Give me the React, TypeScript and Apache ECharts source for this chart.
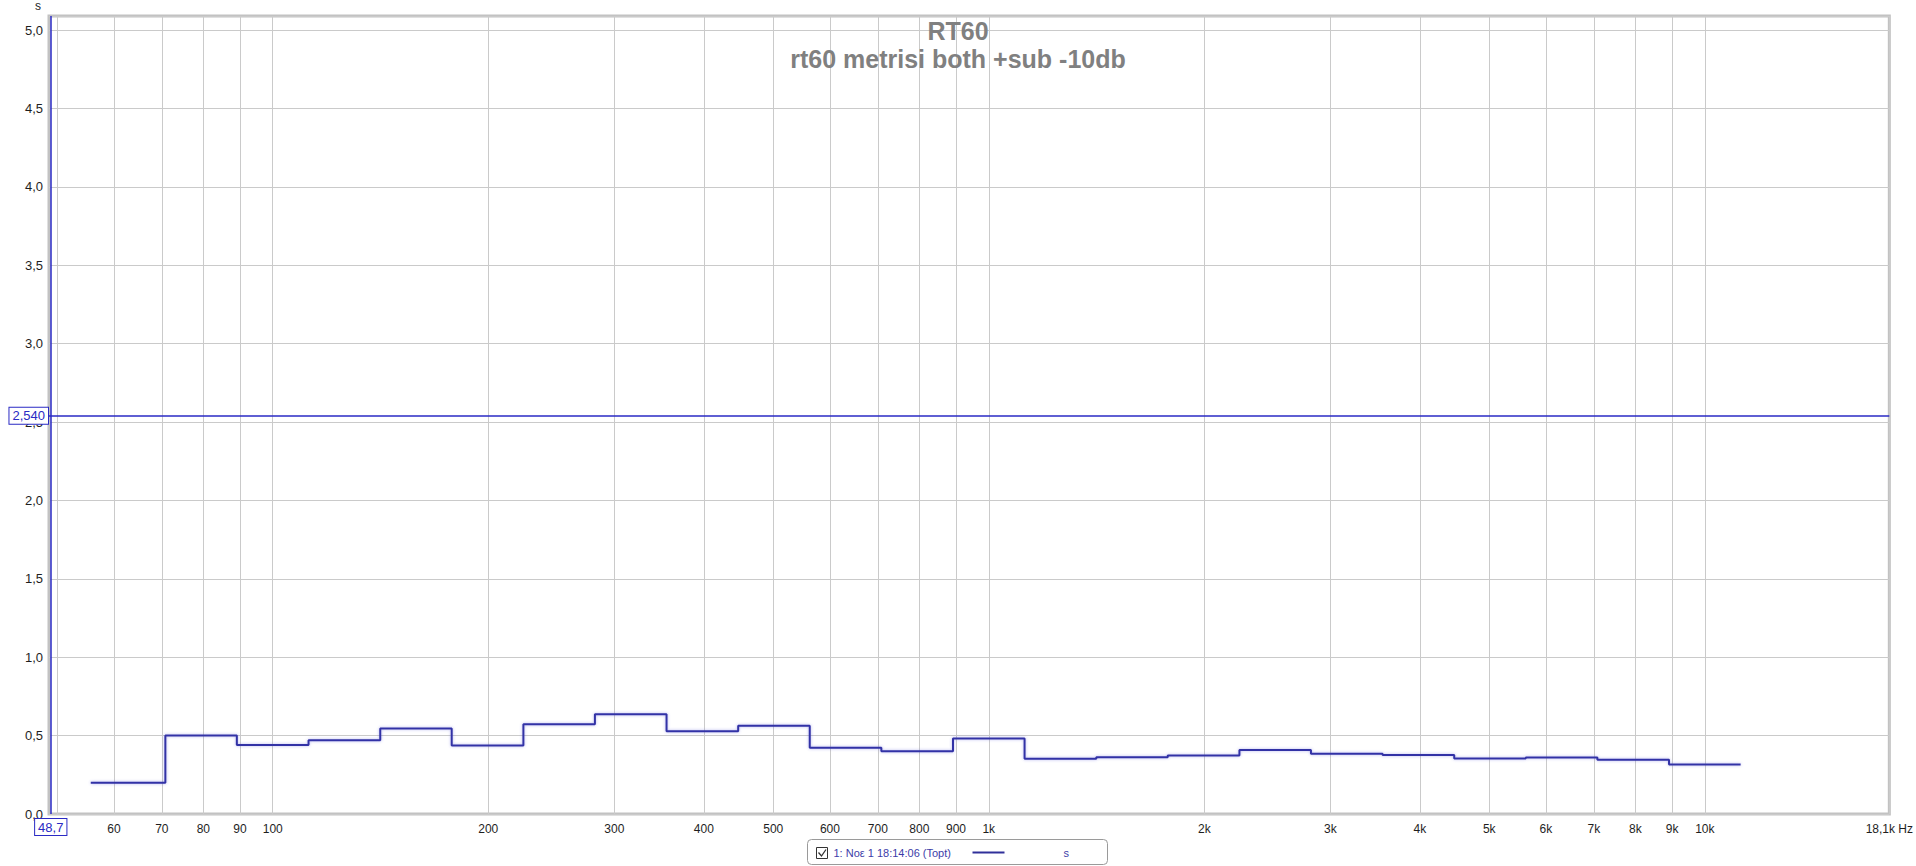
import React, { useEffect, useRef } from 'react';
import * as echarts from 'echarts';

// 1/3-octave band edges (Hz) and the RT60 reading of each band (s)
const bandEdgesHz = [55.7, 70.8, 89.1, 112.2, 141.3, 177.8, 223.9, 281.8, 354.8, 446.7, 562.3, 707.9, 891.3, 1122, 1413, 1778, 2239, 2818, 3548, 4467, 5623, 7079, 8913, 11220];
const rt60Seconds = [0.2, 0.5, 0.44, 0.47, 0.545, 0.437, 0.573, 0.637, 0.528, 0.563, 0.423, 0.4, 0.482, 0.353, 0.362, 0.373, 0.408, 0.385, 0.376, 0.354, 0.36, 0.346, 0.315];

// x axis (log frequency)
const xMinHz = 48.7;
const xMaxHz = 18100;
const xTickFreqs = [50, 60, 70, 80, 90, 100, 200, 300, 400, 500, 600, 700, 800, 900, 1000, 2000, 3000, 4000, 5000, 6000, 7000, 8000, 9000, 10000, 18100];
const xTickLabels = ['', '60', '70', '80', '90', '100', '200', '300', '400', '500', '600', '700', '800', '900', '1k', '2k', '3k', '4k', '5k', '6k', '7k', '8k', '9k', '10k', '18,1k Hz'];

// y axis
const yMax = 5.09;
const yTickValues = [0, 0.5, 1, 1.5, 2, 2.5, 3, 3.5, 4, 4.5, 5];
const yTickLabels = ['0,0', '0,5', '1,0', '1,5', '2,0', '2,5', '3,0', '3,5', '4,0', '4,5', '5,0'];
const yUnit = 's';

// cursors
const cursorHz = 48.7;
const cursorHzLabel = '48,7';
const cursorSeconds = 2.54;
const cursorSecondsLabel = '2,540';

// texts
const titleText = 'RT60';
const subtitleText = 'rt60 metrisi both +sub -10db';
const legendText = '1: Νοε 1 18:14:06 (Topt)';
const legendUnit = 's';

const FONT = '"Liberation Sans", Arial, sans-serif';
const BLUE = '#2a2ac4';

export default function App() {
  const ref = useRef<HTMLDivElement>(null);

  useEffect(() => {
    if (!ref.current) return;
    const chart = echarts.init(ref.current, undefined, { renderer: 'svg' });

    const stepData: number[][] = [];
    rt60Seconds.forEach((v, i) => {
      stepData.push([Math.log10(bandEdgesHz[i]), v]);
      stepData.push([Math.log10(bandEdgesHz[i + 1]), v]);
    });

    const xTickLogs = xTickFreqs.map((f) => Math.log10(f));
    const xLabelFor = (v: number) => {
      let best = -1;
      let bestD = Infinity;
      xTickLogs.forEach((t, i) => {
        const d = Math.abs(t - v);
        if (d < bestD) { bestD = d; best = i; }
      });
      return bestD < 1e-6 ? xTickLabels[best] : '';
    };
    const yLabelFor = (v: number) => {
      const i = yTickValues.findIndex((t) => Math.abs(t - v) < 1e-6);
      return i >= 0 ? yTickLabels[i] : '';
    };

    const cursorLabel = {
      show: true,
      color: BLUE,
      fontSize: 13,
      fontFamily: FONT,
      backgroundColor: '#ffffff',
      borderColor: BLUE,
      borderWidth: 1,
      padding: [2, 3, 1, 3],
    };

    chart.setOption({
      animation: false,
      backgroundColor: '#ffffff',
      title: {
        text: titleText,
        subtext: subtitleText,
        left: 'center',
        top: 13,
        itemGap: 3,
        textStyle: { fontSize: 25, fontWeight: 'bold', color: '#808080', fontFamily: FONT },
        subtextStyle: { fontSize: 25, fontWeight: 'bold', color: '#808080', fontFamily: FONT },
        z: 10,
      },
      grid: {
        left: 49,
        top: 16,
        width: 1843,
        height: 798,
        show: true,
        backgroundColor: '#ffffff',
        borderColor: '#c2c2c2',
        borderWidth: 3,
      },
      xAxis: {
        type: 'value',
        min: Math.log10(xMinHz),
        max: Math.log10(xMaxHz),
        axisLine: { show: false },
        axisTick: { show: false, customValues: xTickLogs },
        axisLabel: {
          customValues: xTickLogs,
          formatter: (v: number) => xLabelFor(v),
          color: '#1e1e1e',
          fontSize: 12,
          fontFamily: FONT,
          margin: 9,
        },
        splitLine: { show: true, lineStyle: { color: '#cacaca', width: 1 } },
      },
      yAxis: {
        type: 'value',
        min: 0,
        max: yMax,
        interval: 0.5,
        axisLine: { show: false },
        axisTick: { show: false },
        axisLabel: {
          formatter: (v: number) => yLabelFor(v),
          color: '#1e1e1e',
          fontSize: 13,
          fontFamily: FONT,
          margin: 6,
        },
        splitLine: { show: true, lineStyle: { color: '#cacaca', width: 1 } },
      },
      series: [
        {
          type: 'line',
          data: stepData,
          showSymbol: false,
          symbol: 'none',
          lineStyle: {
            color: '#3232a6',
            width: 2,
            shadowColor: 'rgba(90,90,220,0.45)',
            shadowBlur: 3,
          },
          z: 5,
          markLine: {
            silent: true,
            symbol: 'none',
            animation: false,
            lineStyle: { color: BLUE, width: 1.5, type: 'solid' },
            data: [
              { yAxis: cursorSeconds, label: { ...cursorLabel, formatter: cursorSecondsLabel, position: 'start', distance: 1 } },
              { xAxis: Math.log10(cursorHz), label: { ...cursorLabel, formatter: cursorHzLabel, position: 'start', distance: 5 } },
            ],
          },
        },
      ],
      graphic: [
        {
          type: 'text',
          left: 35,
          top: 0,
          style: { text: yUnit, fontSize: 12, fontFamily: FONT, fill: '#1e1e1e' },
        },
        {
          type: 'group',
          left: 807,
          top: 839,
          children: [
            {
              type: 'rect',
              shape: { x: 0, y: 0, width: 300, height: 25, r: 4 },
              style: { fill: '#ffffff', stroke: '#9a9a9a', lineWidth: 1 },
            },
            {
              type: 'rect',
              shape: { x: 9, y: 8, width: 11, height: 11 },
              style: { fill: '#ffffff', stroke: '#333333', lineWidth: 1 },
            },
            {
              type: 'polyline',
              shape: { points: [[11, 13], [14, 16.5], [18.5, 10]] },
              style: { stroke: '#333333', lineWidth: 1.3, fill: 'none' },
            },
            {
              type: 'text',
              x: 26,
              y: 13,
              style: { text: legendText, fontSize: 11, fontFamily: FONT, fill: '#3c3ca8', verticalAlign: 'middle' },
            },
            {
              type: 'line',
              shape: { x1: 165, y1: 13, x2: 197, y2: 13 },
              style: { stroke: '#30309a', lineWidth: 2 },
            },
            {
              type: 'text',
              x: 256,
              y: 13,
              style: { text: legendUnit, fontSize: 11, fontFamily: FONT, fill: '#3c3ca8', verticalAlign: 'middle' },
            },
          ],
        },
      ],
    });

    return () => chart.dispose();
  }, []);

  return (
    <div
      ref={ref}
      style={{ position: 'fixed', left: 0, top: 0, width: 1916, height: 866, background: '#fff' }}
    />
  );
}
